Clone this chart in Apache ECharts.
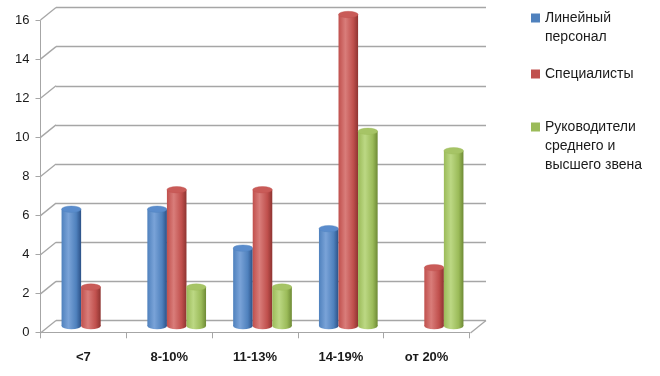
<!DOCTYPE html>
<html>
<head>
<meta charset="utf-8">
<script src="https://cdn.jsdelivr.net/npm/echarts@6/dist/echarts.min.js"></script>
<style>html,body{margin:0;padding:0;background:#fff;}#c{width:660px;height:376px;}</style>
</head>
<body>
<div id="c"></div>
<script>
var categories = ['<7', '8-10%', '11-13%', '14-19%', 'от 20%'];
var seriesNames = ['Линейный персонал', 'Специалисты', 'Руководители среднего и высшего звена'];
var legendLines = [['Линейный', 'персонал'], ['Специалисты'], ['Руководители', 'среднего и', 'высшего звена']];
var lineStaff = [6, 6, 4, 5, null];
var specialists = [2, 7, 7, 16, 3];
var managers = [null, 2, 2, 10, 9];
var yTicks = [0, 2, 4, 6, 8, 10, 12, 14, 16];

var chart = echarts.init(document.getElementById('c'), null, {renderer: 'canvas'});
var FONT = 'Liberation Sans, Arial, sans-serif';
var GRID_COLOR = '#a6a6a6';
var DX = 15.5, DY = 12.5;

var palettes = [
  {dark: '#2c5187', mid: '#4f81bd', light: '#7aa3d8', cap: '#5a8ccc'},
  {dark: '#8e3431', mid: '#c0504d', light: '#d97d7a', cap: '#c95b58'},
  {dark: '#6e8a35', mid: '#9bbb59', light: '#bcd884', cap: '#a6c466'}
];

function grad(p) {
  return new echarts.graphic.LinearGradient(0, 0, 1, 0, [
    {offset: 0, color: p.mid},
    {offset: 0.35, color: p.light},
    {offset: 0.75, color: p.mid},
    {offset: 1, color: p.dark}
  ]);
}

function cylRender(slot) {
  var p = palettes[slot];
  return function (params, api) {
    var v = api.value(1);
    if (v == null || isNaN(v)) return null;
    var cat = api.value(0);
    var top = api.coord([cat, v]);
    var base = api.coord([cat, 0]);
    var w = api.size([1, 0])[0] * 0.228;
    var cx = top[0] + (slot - 1) * w;
    var r = w / 2, ry = 3.2;
    return {
      type: 'group',
      children: [
        {type: 'circle', shape: {cx: 0, cy: 0, r: r}, x: cx, y: base[1], scaleY: ry / r, style: {fill: grad(p)}},
        {type: 'rect', shape: {x: cx - r, y: top[1], width: w, height: base[1] - top[1]}, style: {fill: grad(p)}},
        {type: 'circle', shape: {cx: 0, cy: 0, r: r}, x: cx, y: top[1], scaleY: ry / r, style: {fill: p.cap, stroke: p.mid, lineWidth: 0.6}}
      ]
    };
  };
}

function toData(arr) {
  var out = [];
  for (var i = 0; i < arr.length; i++) out.push([i, arr[i] == null ? NaN : arr[i]]);
  return out;
}

var frameData = yTicks.map(function (t) { return [0, t]; });

var LH = 19;
var legendFirstLine = [18, 74, 127];
var legends = seriesNames.map(function (name, i) {
  var n = legendLines[i].length;
  var blanks = [];
  for (var k = 0; k < n - 1; k++) blanks.push(' ');
  var text = blanks.concat(legendLines[i]).join('\n');
  return {
    orient: 'vertical',
    left: 531,
    top: legendFirstLine[i] - (2 * n - 1) * LH / 2,
    padding: 0,
    itemWidth: 9,
    itemHeight: 9,
    itemGap: 0,
    icon: 'rect',
    data: [name],
    selectedMode: false,
    formatter: function () { return text; },
    textStyle: {fontFamily: FONT, fontSize: 14, color: '#1a1a1a', lineHeight: LH}
  };
});

var option = {
  animation: false,
  backgroundColor: '#ffffff',
  legend: legends,
  grid: [
    {left: 56, right: 174, top: 7.5, bottom: 55.5},
    {left: 40.5, right: 190.5, top: 20.7, bottom: 43.7},
    {left: 48, right: 183, top: 14.5, bottom: 50}
  ],
  xAxis: [
    {gridIndex: 0, type: 'category', data: categories, show: false},
    {gridIndex: 1, type: 'category', data: categories,
      axisLine: {lineStyle: {color: GRID_COLOR, width: 1}},
      axisTick: {show: true, length: 6, interval: 0, lineStyle: {color: GRID_COLOR}},
      axisLabel: {margin: 19, fontFamily: FONT, fontSize: 13, fontWeight: 'bold', color: '#1a1a1a', interval: 0}},
    {gridIndex: 2, type: 'category', data: categories, show: false}
  ],
  yAxis: [
    {gridIndex: 0, type: 'value', min: 0, max: 16, interval: 2,
      axisLine: {show: false}, axisTick: {show: false}, axisLabel: {show: false},
      splitLine: {show: true, lineStyle: {color: GRID_COLOR, width: 1.3}}},
    {gridIndex: 1, type: 'value', min: 0, max: 16, interval: 2,
      axisLine: {show: true, lineStyle: {color: GRID_COLOR, width: 1}},
      axisTick: {show: true, length: 5, lineStyle: {color: GRID_COLOR}},
      axisLabel: {margin: 11, fontFamily: FONT, fontSize: 13, color: '#1a1a1a'},
      splitLine: {show: false}},
    {gridIndex: 2, type: 'value', min: 0, max: 16, interval: 2, show: false, splitLine: {show: false}}
  ],
  series: [
    {
      type: 'custom', name: 'frame', xAxisIndex: 0, yAxisIndex: 0, silent: true,
      data: frameData,
      renderItem: function (params, api) {
        var y = api.coord([0, api.value(1)])[1];
        var cs = params.coordSys;
        var children = [{type: 'line', shape: {x1: cs.x, y1: y, x2: cs.x - DX, y2: y + DY}, style: {stroke: GRID_COLOR, lineWidth: 1.3}}];
        if (api.value(1) === 0) {
          children.push({type: 'line', shape: {x1: cs.x + cs.width, y1: y, x2: cs.x + cs.width - DX, y2: y + DY}, style: {stroke: GRID_COLOR, lineWidth: 1.3}});
        }
        return {type: 'group', children: children};
      },
      z: 1
    },
    {type: 'custom', name: seriesNames[0], xAxisIndex: 2, yAxisIndex: 2, data: toData(lineStaff), renderItem: cylRender(0), itemStyle: {color: palettes[0].mid}, z: 5},
    {type: 'custom', name: seriesNames[1], xAxisIndex: 2, yAxisIndex: 2, data: toData(specialists), renderItem: cylRender(1), itemStyle: {color: palettes[1].mid}, z: 5},
    {type: 'custom', name: seriesNames[2], xAxisIndex: 2, yAxisIndex: 2, data: toData(managers), renderItem: cylRender(2), itemStyle: {color: palettes[2].mid}, z: 5}
  ]
};
chart.setOption(option);
</script>
</body>
</html>
